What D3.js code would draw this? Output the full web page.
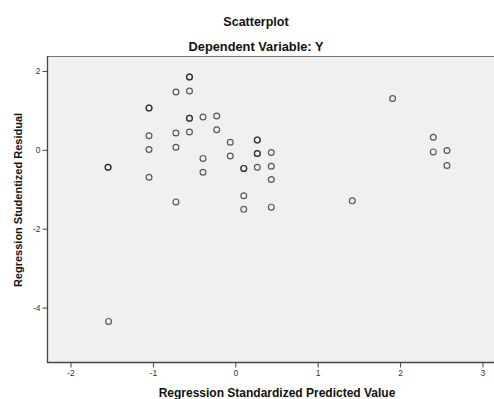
<!DOCTYPE html>
<html>
<head>
<meta charset="utf-8">
<script src="https://cdn.jsdelivr.net/npm/d3@7/dist/d3.min.js"></script>
<style>
  html, body { margin: 0; padding: 0; background: #fff; }
  svg { display: block; font-family: "Liberation Sans", Arial, Helvetica, sans-serif; }
</style>
</head>
<body>
<svg id="chart" width="494" height="399"></svg>
<script>
// Standardized predicted value (x) and studentized residual (y) per case.
// Cases that coincide are listed twice, so their markers draw darker.
const predicted = [
  -0.556, -0.556, -0.720, -0.556, -1.047, -1.047, -0.556, -0.556,
  -1.047, -0.720, -0.556, -1.047, -0.720, -1.544, -1.544, -1.047, -0.720,
  -0.392, -0.225, -0.225, -0.061, 0.267, 0.267, -0.392, -0.061,
  0.267, 0.267, 0.437, -0.392, 0.103, 0.103, 0.267, 0.437, 0.437,
  0.103, 0.103, 0.437,
  1.909, 2.403, 2.403, 2.569, 2.569, 1.420, -1.538
];
const residual = [
  1.847, 1.847, 1.467, 1.492, 1.061, 1.061, 0.801, 0.801,
  0.357, 0.428, 0.453, 0.008, 0.066, -0.441, -0.441, -0.694, -1.320,
  0.831, 0.859, 0.509, 0.193, 0.251, 0.251, -0.218, -0.155,
  -0.094, -0.094, -0.066, -0.567, -0.471, -0.471, -0.441, -0.415, -0.752,
  -1.163, -1.510, -1.454,
  1.300, 0.319, -0.053, -0.018, -0.398, -1.294, -4.350
];
const xTicks = [-2, -1, 0, 1, 2, 3];
const yTicks = [-4, -2, 0, 2];

const title = "Scatterplot";
const subtitle = "Dependent Variable: Y";
const xLabel = "Regression Standardized Predicted Value";
const yLabel = "Regression Studentized Residual";

const svg = d3.select("#chart");
const plot = { left: 48, top: 56, right: 494, bottom: 362 };

const x = d3.scaleLinear().domain([-2.273, 3.14]).range([plot.left, plot.right]);
const y = d3.scaleLinear().domain([-5.38, 2.379]).range([plot.bottom, plot.top]);

// plot background
svg.append("rect")
  .attr("x", plot.left).attr("y", plot.top)
  .attr("width", plot.right - plot.left + 2).attr("height", plot.bottom - plot.top)
  .attr("fill", "#f0f0f0");

// top frame line
svg.append("line")
  .attr("x1", plot.left).attr("x2", plot.right + 2)
  .attr("y1", plot.top + 0.5).attr("y2", plot.top + 0.5)
  .attr("stroke", "#777").attr("stroke-width", 1);

// axes
const xAxis = d3.axisBottom(x).tickValues(xTicks).tickSize(5).tickPadding(2)
  .tickFormat(d => String(d).replace("\u2212", "-"));
const yAxis = d3.axisLeft(y).tickValues(yTicks).tickSize(5).tickPadding(2)
  .tickFormat(d => String(d).replace("\u2212", "-"));

const gx = svg.append("g").attr("transform", `translate(0,${plot.bottom + 0.5})`).call(xAxis);
const gy = svg.append("g").attr("transform", `translate(${plot.left - 0.5},0)`).call(yAxis);

[gx, gy].forEach(g => {
  g.select(".domain").attr("stroke", "#444").attr("stroke-width", 1.3);
  g.selectAll(".tick line").attr("stroke", "#444");
  g.selectAll(".tick text").attr("fill", "#333").style("font-size", "8.5px");
});
gx.select(".domain").attr("d", `M${plot.left - 1},0H${plot.right + 2}`);
gy.select(".domain").attr("d", `M0,${plot.top}V${plot.bottom + 1}`);

// points
const pts = predicted.map((v, i) => ({ x: v, y: residual[i] }));
svg.append("g").selectAll("circle")
  .data(pts).join("circle")
  .attr("cx", d => x(d.x))
  .attr("cy", d => y(d.y))
  .attr("r", 2.9)
  .attr("fill", "none")
  .attr("stroke", "#1e1e1e")
  .attr("stroke-opacity", 0.72)
  .attr("stroke-width", 1.2);

// titles
svg.append("text").attr("x", 256).attr("y", 25.5)
  .attr("text-anchor", "middle").attr("font-weight", "bold")
  .style("font-size", "12.5px").attr("fill", "#111").text(title);
svg.append("text").attr("x", 256).attr("y", 50.5)
  .attr("text-anchor", "middle").attr("font-weight", "bold")
  .style("font-size", "12.8px").attr("fill", "#111").text(subtitle);

// axis titles
svg.append("text").attr("x", 277).attr("y", 397)
  .attr("text-anchor", "middle").attr("font-weight", "bold")
  .style("font-size", "12px").attr("fill", "#111").text(xLabel);
svg.append("text")
  .attr("transform", "translate(22,200) rotate(-90)")
  .attr("text-anchor", "middle").attr("font-weight", "bold")
  .style("font-size", "11px").attr("fill", "#111").text(yLabel);
</script>
</body>
</html>
